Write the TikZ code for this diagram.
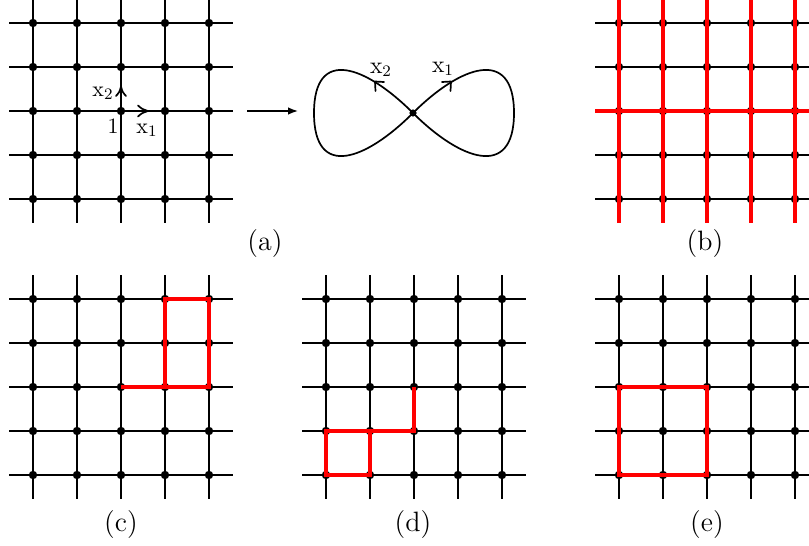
\documentclass[tikz,border=0pt]{standalone}
\usetikzlibrary{arrows.meta}
\tikzset{
  gl/.style={line width=1pt},
  thinl/.style={line width=0.8pt},
  redl/.style={draw=red, line width=2pt},
  captxt/.style={font=\fontsize{14}{16}\selectfont, inner sep=0pt},
  lab/.style={font=\fontsize{11}{13}\selectfont, inner sep=0pt},
  lab8/.style={font=\fontsize{12}{14}\selectfont, inner sep=0pt},
  curve/.style={line width=0.85pt},
  barb/.style={line width=0.85pt, line cap=round, line join=round},
}
\newcommand\mylattice[1]{%
  \foreach \i in {0,...,4}{%
    \draw[#1] (-24,\i*44) -- (200,\i*44);
    \draw[gl] (\i*44,-24) -- (\i*44,200);
  }
  \foreach \i in {0,...,4}{\foreach \j in {0,...,4}{\fill (\i*44,\j*44) circle (4.2);}}
}
\begin{document}
\begin{tikzpicture}[x=0.5pt,y=-0.5pt]
\useasboundingbox (0,0) rectangle (809,546);
% (a)
\begin{scope}[shift={(33,23)}]
  \mylattice{gl}
\end{scope}
\coordinate (o) at (121,111);
\coordinate (e1) at (148,111);
\coordinate (e2) at (121,86.5);
\draw[gl] (o) -- (e1);
\draw[gl] (o) -- (e2);
\draw[barb] (138,105.5) .. controls (142,109) .. (e1) .. controls (142,113) .. (138,116.5);
\draw[barb] (116,96) .. controls (119.5,92) .. (e2) .. controls (122.5,92) .. (126,96);
\node[lab] (lx2) at (103,93) {$\mathrm{x}_2$};
\node[lab] (l1) at (113,126) {$1$};
\node[lab] (lx1) at (147,130) {$\mathrm{x}_1$};
\node[captxt] (ca) at (265,244) {(a)};
% arrow
\coordinate (as) at (247,111);
\coordinate (ae) at (298,111);
\draw[thinl,-{Latex[length=5pt,width=3.8pt]}] (as) -- (ae);
% figure eight
\node[circle, fill, inner sep=0pt, minimum size=3.6pt] (c8) at (413,113) {};
\coordinate (r8) at (514,113);
\coordinate (l8) at (314,113);
\draw[curve] (c8.center) .. controls (460,66) and (514,46) .. (r8);
\draw[curve] (r8) .. controls (514,180) and (460,160) .. (c8.center);
\draw[curve] (c8.center) .. controls (366,66) and (314,46) .. (l8);
\draw[curve] (l8) .. controls (314,180) and (366,160) .. (c8.center);
\coordinate (t1) at (451,81.5);
\coordinate (t2) at (375,81.5);
\draw[barb] (442,82) .. controls (447,82) .. (t1) .. controls (450.5,86) .. (450.5,91);
\draw[barb] (384,82) .. controls (379,82) .. (t2) .. controls (375.5,86) .. (375.5,91);
\node[lab8] (f2) at (381,70) {$\mathrm{x}_2$};
\node[lab8] (f1) at (443,69) {$\mathrm{x}_1$};
% (b)
\begin{scope}[shift={(619,23)}]
  \mylattice{thinl}
  \foreach \i in {0,...,4}{\draw[redl] (\i*44,-24) -- (\i*44,200);}
  \draw[redl] (-24,88) -- (200,88);
\end{scope}
\node[captxt] (cb) at (705,244) {(b)};
% (c)
\begin{scope}[shift={(33,299)}]
  \mylattice{gl}
  \draw[redl, line join=miter] (88,88) -- (176,88) -- (176,0) -- (132,0) -- (132,88);
\end{scope}
\node[captxt] (cc) at (121,525) {(c)};
% (d)
\begin{scope}[shift={(326,299)}]
  \mylattice{gl}
  \draw[redl, line join=miter] (88,88) -- (88,132) -- (0,132) -- (0,176) -- (44,176) -- (44,132);
\end{scope}
\node[captxt] (cd) at (413,525) {(d)};
% (e)
\begin{scope}[shift={(619,299)}]
  \mylattice{gl}
  \draw[redl, line join=miter] (0,88) rectangle (88,176);
\end{scope}
\node[captxt] (ce) at (707,525) {(e)};
\end{tikzpicture}
\end{document}
